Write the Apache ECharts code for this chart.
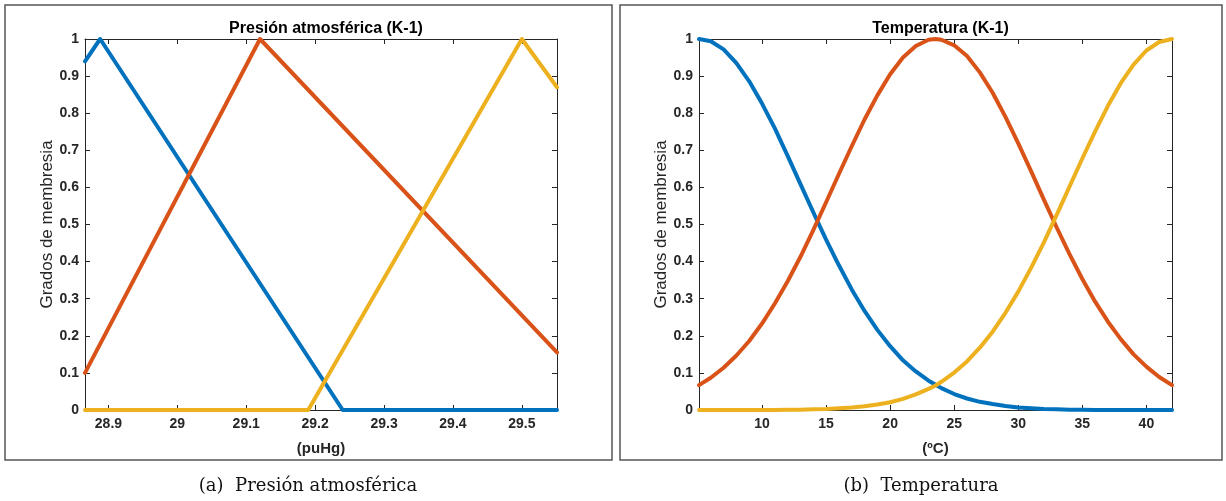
<!DOCTYPE html>
<html>
<head>
<meta charset="utf-8">
<script src="https://cdn.jsdelivr.net/npm/echarts@6/dist/echarts.min.js"></script>
<style>
  html, body { margin: 0; padding: 0; background: #fff; }
  #chart { width: 1226px; height: 501px; }
</style>
</head>
<body>
<div id="chart"></div>
<script>
// Membership functions of the fuzzy inputs (K-1)

// Pressure (inHg): triangular sets, breakpoints as [x, y]
const pressureRange = [28.866, 29.551];
const pressureLow = [[28.866, 0.94], [28.888, 1], [29.24, 0], [29.551, 0]];
const pressureMid = [[28.866, 0.10], [29.12, 1], [29.551, 0.155]];
const pressureHigh = [[28.866, 0], [29.19, 0], [29.5, 1], [29.551, 0.87]];
const pressureTicks = [28.9, 29, 29.1, 29.2, 29.3, 29.4, 29.5];

// Temperature (°C): gaussian sets sampled along x
const tempRange = [5.08, 42];
const tempX = [5.08, 6, 7, 8, 9, 10, 11, 12, 13, 14, 15, 16, 17, 18, 19, 20, 21, 22, 23, 23.55,
  24, 25, 26, 27, 28, 29, 30, 31, 32, 33, 34, 35, 36, 37, 38, 39, 40, 41, 42];
const tempLow = [1, 0.994, 0.972, 0.935, 0.886, 0.826, 0.759, 0.685, 0.609, 0.533, 0.459, 0.390,
  0.325, 0.267, 0.216, 0.172, 0.134, 0.104, 0.079, 0.068, 0.059, 0.043, 0.031, 0.022, 0.016,
  0.011, 0.007, 0.005, 0.003, 0.002, 0.001, 0.001, 0, 0, 0, 0, 0, 0, 0];
const tempMid = [0.067, 0.087, 0.114, 0.147, 0.186, 0.233, 0.287, 0.347, 0.413, 0.485, 0.560,
  0.636, 0.711, 0.783, 0.848, 0.905, 0.950, 0.981, 0.998, 1, 0.998, 0.983, 0.954, 0.910, 0.855,
  0.790, 0.719, 0.644, 0.567, 0.492, 0.420, 0.353, 0.292, 0.238, 0.191, 0.150, 0.117, 0.089, 0.067];
const tempHigh = [0, 0, 0, 0, 0, 0, 0, 0.001, 0.001, 0.002, 0.003, 0.005, 0.007, 0.010, 0.015,
  0.021, 0.030, 0.042, 0.057, 0.066, 0.076, 0.101, 0.131, 0.168, 0.211, 0.262, 0.319, 0.383,
  0.452, 0.526, 0.602, 0.678, 0.751, 0.820, 0.881, 0.931, 0.969, 0.992, 1];
const tempTicks = [10, 15, 20, 25, 30, 35, 40];

const membershipTicks = [0, 0.1, 0.2, 0.3, 0.4, 0.5, 0.6, 0.7, 0.8, 0.9, 1];

const titles = ['Presión atmosférica (K-1)', 'Temperatura (K-1)'];
const xNames = ['(puHg)', '(ºC)'];
const yName = 'Grados de membresia';
const captions = ['(a)  Presión atmosférica', '(b)  Temperatura'];

const colors = ['#0072BD', '#D95319', '#EDB120'];
const axisColor = '#262626';
const font = 'Liberation Sans, Arial, sans-serif';

const grids = [
  { left: 85, top: 39, width: 472, height: 371 },
  { left: 699, top: 39, width: 473, height: 371 }
];

function zip(xs, ys) { return xs.map((x, i) => [x, ys[i]]); }

function xAxes(gridIndex, range, ticks, name) {
  const base = {
    gridIndex, type: 'value', min: range[0], max: range[1],
    splitLine: { show: false },
    axisLine: { show: true, onZero: false, lineStyle: { color: axisColor, width: 1 } },
    axisTick: { show: true, inside: true, length: 5, customValues: ticks, lineStyle: { color: axisColor } }
  };
  return [
    Object.assign({}, base, {
      position: 'bottom',
      name, nameLocation: 'middle', nameGap: 31,
      nameTextStyle: { fontFamily: font, fontSize: 15, fontWeight: 'bold', color: axisColor },
      axisLabel: { show: true, customValues: ticks, margin: 7, fontFamily: font, fontSize: 14, fontWeight: 'bold', color: axisColor }
    }),
    Object.assign({}, base, { position: 'top', axisLabel: { show: false } })
  ];
}

function yAxes(gridIndex) {
  const base = {
    gridIndex, type: 'value', min: 0, max: 1,
    splitLine: { show: false },
    axisLine: { show: true, onZero: false, lineStyle: { color: axisColor, width: 1 } },
    axisTick: { show: true, inside: true, length: 5, customValues: membershipTicks, lineStyle: { color: axisColor } }
  };
  return [
    Object.assign({}, base, {
      position: 'left',
      name: yName, nameLocation: 'middle', nameGap: 28,
      nameTextStyle: { fontFamily: font, fontSize: 17, color: axisColor },
      axisLabel: { show: true, customValues: membershipTicks, margin: 6, fontFamily: font, fontSize: 14, fontWeight: 'bold', color: axisColor }
    }),
    Object.assign({}, base, { position: 'right', axisLabel: { show: false } })
  ];
}

function lineSeries(xAxisIndex, yAxisIndex, data, color) {
  return {
    type: 'line', xAxisIndex, yAxisIndex, data,
    showSymbol: false, clip: false, silent: true,
    lineStyle: { color, width: 4, cap: 'round', join: 'round' },
    animation: false
  };
}

const chart = echarts.init(document.getElementById('chart'), null, { renderer: 'canvas' });

chart.setOption({
  backgroundColor: '#fff',
  animation: false,
  title: titles.map((t, i) => ({
    text: t,
    left: grids[i].left + grids[i].width / 2,
    top: 16,
    textAlign: 'center',
    textStyle: { fontFamily: font, fontSize: 16, fontWeight: 'bold', color: '#000' }
  })),
  grid: grids,
  xAxis: [
    ...xAxes(0, pressureRange, pressureTicks, xNames[0]),
    ...xAxes(1, tempRange, tempTicks, xNames[1])
  ],
  yAxis: [...yAxes(0), ...yAxes(1)],
  series: [
    lineSeries(0, 0, pressureLow, colors[0]),
    lineSeries(0, 0, pressureMid, colors[1]),
    lineSeries(0, 0, pressureHigh, colors[2]),
    lineSeries(2, 2, zip(tempX, tempLow), colors[0]),
    lineSeries(2, 2, zip(tempX, tempMid), colors[1]),
    lineSeries(2, 2, zip(tempX, tempHigh), colors[2])
  ],
  graphic: [
    { type: 'rect', shape: { x: 5, y: 5, width: 607, height: 455 }, style: { fill: 'none', stroke: '#555', lineWidth: 1.5 }, silent: true },
    { type: 'rect', shape: { x: 620, y: 5, width: 602, height: 455 }, style: { fill: 'none', stroke: '#555', lineWidth: 1.5 }, silent: true },
    { type: 'text', x: 308, y: 486, style: { text: captions[0], fontFamily: 'DejaVu Serif, serif', fontSize: 18, fill: '#111', align: 'center', verticalAlign: 'middle' }, silent: true },
    { type: 'text', x: 921, y: 486, style: { text: captions[1], fontFamily: 'DejaVu Serif, serif', fontSize: 18, fill: '#111', align: 'center', verticalAlign: 'middle' }, silent: true }
  ]
});
</script>
</body>
</html>
